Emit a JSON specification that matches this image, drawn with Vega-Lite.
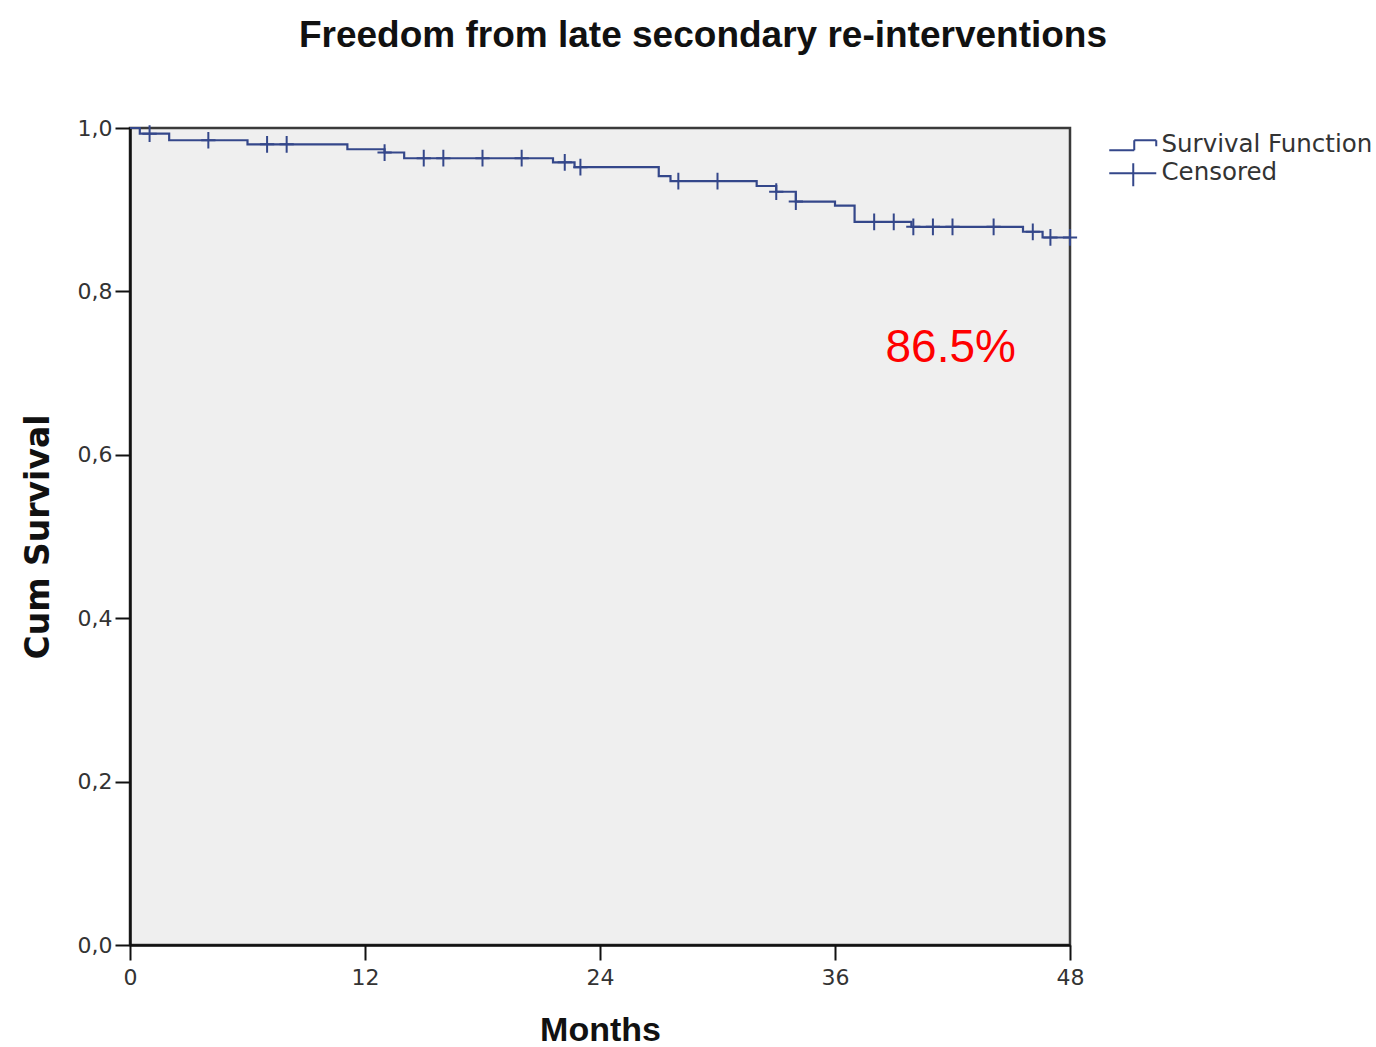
{
  "$schema": "https://vega.github.io/schema/vega-lite/v6.json",
  "width": 940,
  "height": 817,
  "autosize": {"type": "none"},
  "padding": {"left": 130, "top": 128, "right": 306, "bottom": 102},
  "background": "white",
  "title": {
    "text": "Freedom from late secondary re-interventions",
    "font": "Liberation Sans",
    "fontSize": 37,
    "fontWeight": "bold",
    "color": "#111111",
    "anchor": "middle",
    "dx": 103,
    "baseline": "alphabetic",
    "offset": 33
  },
  "config": {
    "view": {"fill": "#EFEFEF", "stroke": "#3a3a3a", "strokeWidth": 2.5}
  },
  "layer": [
    {
      "data": {
        "values": [
          {"t": 0, "s": 1.0, "kind": "Survival Function"},
          {"t": 0.5, "s": 0.993, "kind": "Survival Function"},
          {"t": 2.0, "s": 0.985, "kind": "Survival Function"},
          {"t": 6.0, "s": 0.98, "kind": "Survival Function"},
          {"t": 11.1, "s": 0.974, "kind": "Survival Function"},
          {"t": 13.0, "s": 0.97, "kind": "Survival Function"},
          {"t": 14.0, "s": 0.963, "kind": "Survival Function"},
          {"t": 21.6, "s": 0.958, "kind": "Survival Function"},
          {"t": 22.7, "s": 0.952, "kind": "Survival Function"},
          {"t": 27.0, "s": 0.941, "kind": "Survival Function"},
          {"t": 27.6, "s": 0.935, "kind": "Survival Function"},
          {"t": 32.0, "s": 0.929, "kind": "Survival Function"},
          {"t": 33.0, "s": 0.922, "kind": "Survival Function"},
          {"t": 34.0, "s": 0.91, "kind": "Survival Function"},
          {"t": 36.0, "s": 0.905, "kind": "Survival Function"},
          {"t": 37.0, "s": 0.885, "kind": "Survival Function"},
          {"t": 39.9, "s": 0.879, "kind": "Survival Function"},
          {"t": 45.6, "s": 0.873, "kind": "Survival Function"},
          {"t": 46.6, "s": 0.866, "kind": "Survival Function"},
          {"t": 48.0, "s": 0.866, "kind": "Survival Function"}
        ]
      },
      "mark": {"type": "line", "interpolate": "step-after", "color": "#34478A", "strokeWidth": 2.2},
      "encoding": {
        "x": {
          "field": "t",
          "type": "quantitative",
          "scale": {"domain": [0, 48], "nice": false},
          "axis": {
            "values": [0, 12, 24, 36, 48],
            "title": "Months",
            "titleFont": "Liberation Sans",
            "titleFontSize": 34,
            "titleFontWeight": "bold",
            "titleColor": "#111111",
            "titlePadding": 25,
            "labelFont": "DejaVu Sans",
            "labelFontSize": 22,
            "labelColor": "#333333",
            "labelPadding": 7,
            "labelFlush": false,
            "tickSize": 15,
            "tickColor": "#111111",
            "tickWidth": 2,
            "domainColor": "#111111",
            "domainWidth": 2.5,
            "grid": false
          }
        },
        "y": {
          "field": "s",
          "type": "quantitative",
          "scale": {"domain": [0, 1], "nice": false},
          "axis": {
            "values": [0, 0.2, 0.4, 0.6, 0.8, 1],
            "format": ".1f",
            "labelExpr": "replace(datum.label, '.', ',')",
            "title": "Cum Survival",
            "titleFont": "DejaVu Sans",
            "titleFontSize": 33,
            "titleFontWeight": "bold",
            "titleColor": "#111111",
            "titlePadding": 22,
            "labelFont": "DejaVu Sans",
            "labelFontSize": 22,
            "labelColor": "#333333",
            "labelPadding": 3,
            "labelFlush": false,
            "tickSize": 15,
            "tickColor": "#111111",
            "tickWidth": 2,
            "domainColor": "#111111",
            "domainWidth": 2.5,
            "grid": false
          }
        },
        "strokeDash": {
          "field": "kind",
          "type": "nominal",
          "scale": {"domain": ["Survival Function"], "range": [[1, 0]]},
          "legend": {
            "title": null,
            "orient": "none",
            "legendX": 977,
            "legendY": 5,
            "labelFont": "DejaVu Sans",
            "labelFontSize": 24.5,
            "labelColor": "#333333",
            "labelLimit": 400,
            "symbolType": "M-1,0.5H1.5V-0.5H3.7V0.1",
            "symbolSize": 400,
            "symbolStrokeWidth": 2,
            "symbolStrokeColor": "#34478A",
            "symbolFillColor": "transparent",
            "labelOffset": 30
          }
        }
      }
    },
    {
      "data": {
        "values": [
          {"t": 1.0, "s": 0.993, "kind": "Censored"},
          {"t": 4.0, "s": 0.985, "kind": "Censored"},
          {"t": 7.0, "s": 0.98, "kind": "Censored"},
          {"t": 8.0, "s": 0.98, "kind": "Censored"},
          {"t": 13.0, "s": 0.97, "kind": "Censored"},
          {"t": 15.0, "s": 0.963, "kind": "Censored"},
          {"t": 16.0, "s": 0.963, "kind": "Censored"},
          {"t": 18.0, "s": 0.963, "kind": "Censored"},
          {"t": 20.0, "s": 0.963, "kind": "Censored"},
          {"t": 22.2, "s": 0.958, "kind": "Censored"},
          {"t": 23.0, "s": 0.952, "kind": "Censored"},
          {"t": 28.0, "s": 0.935, "kind": "Censored"},
          {"t": 30.0, "s": 0.935, "kind": "Censored"},
          {"t": 33.0, "s": 0.922, "kind": "Censored"},
          {"t": 34.0, "s": 0.91, "kind": "Censored"},
          {"t": 38.0, "s": 0.885, "kind": "Censored"},
          {"t": 39.0, "s": 0.885, "kind": "Censored"},
          {"t": 40.0, "s": 0.879, "kind": "Censored"},
          {"t": 41.0, "s": 0.879, "kind": "Censored"},
          {"t": 42.0, "s": 0.879, "kind": "Censored"},
          {"t": 44.1, "s": 0.879, "kind": "Censored"},
          {"t": 46.1, "s": 0.873, "kind": "Censored"},
          {"t": 47.0, "s": 0.866, "kind": "Censored"},
          {"t": 48.0, "s": 0.866, "kind": "Censored"}
        ]
      },
      "mark": {"type": "point", "shape": "M-0.85,0H0.85M0,-1V1", "filled": false, "size": 280, "strokeWidth": 2, "opacity": 1},
      "encoding": {
        "x": {"field": "t", "type": "quantitative"},
        "y": {"field": "s", "type": "quantitative"},
        "color": {
          "field": "kind",
          "type": "nominal",
          "scale": {"domain": ["Censored"], "range": ["#34478A"]},
          "legend": {
            "title": null,
            "orient": "none",
            "legendX": 977,
            "legendY": 33,
            "labelFont": "DejaVu Sans",
            "labelFontSize": 24.5,
            "labelColor": "#333333",
            "labelLimit": 400,
            "symbolType": "M-1,0H3.7M1.4,-1V1.3",
            "symbolSize": 400,
            "symbolStrokeWidth": 2,
            "symbolFillColor": "transparent",
            "labelOffset": 30
          }
        }
      }
    },
    {
      "data": {"values": [{"t": 41.91, "s": 0.7303, "label": "86.5%"}]},
      "mark": {"type": "text", "font": "Liberation Sans", "fontSize": 46, "color": "#FF0000", "align": "center", "baseline": "middle"},
      "encoding": {
        "x": {"field": "t", "type": "quantitative"},
        "y": {"field": "s", "type": "quantitative"},
        "text": {"field": "label", "type": "nominal"}
      }
    }
  ]
}
